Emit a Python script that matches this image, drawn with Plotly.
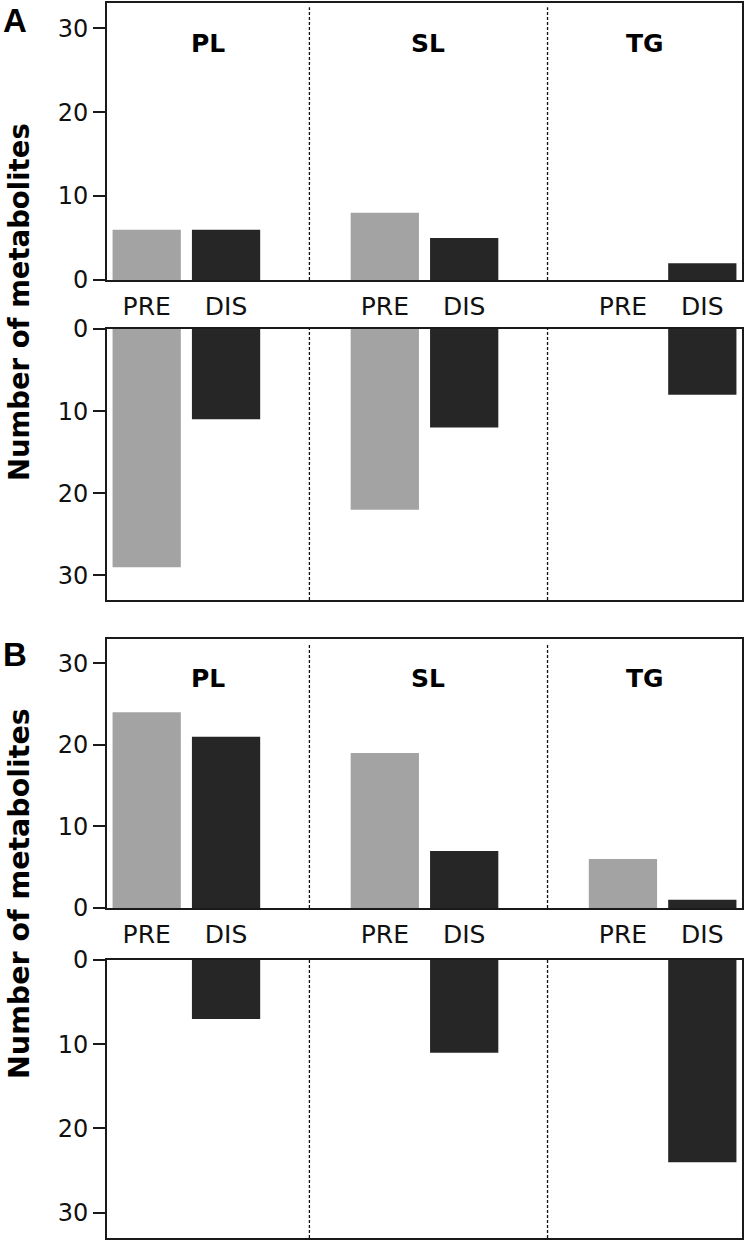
import plotly.graph_objects as go

# ---------------- data ----------------
lipid_classes = ["PL", "SL", "TG"]
conditions = ["PRE", "DIS"]
y_ticks = [0, 10, 20, 30]

# Panel A
a_up_pre = [6, 8, 0]
a_up_dis = [6, 5, 2]
a_down_pre = [29, 22, 0]
a_down_dis = [11, 12, 8]

# Panel B
b_up_pre = [24, 19, 6]
b_up_dis = [21, 7, 1]
b_down_pre = [0, 0, 0]
b_down_dis = [7, 11, 24]

panel_letters = ["A", "B"]
y_title = "Number of metabolites"

# ---------------- style / layout ----------------
W, H = 746, 1243
GREY = "#a3a3a3"
DARK = "#262626"
LINE = "#1a1a1a"
FONT = "DejaVu Sans"

def py(px):
    return 1 - px / H

x_dom = [107 / W, 742 / W]
# pixel extents (top, bottom) of the four plotting areas
areas = [(3, 280), (329, 600), (639, 908), (960, 1238)]

slot = 3  # each lipid class occupies 3 x-slots (PRE, DIS, gap)
x_pre = [i * slot for i in range(len(lipid_classes))]
x_dis = [i * slot + 1 for i in range(len(lipid_classes))]
dividers = [2.05, 5.05]
x_range = [-0.5, 7.5]
bar_w = 0.86

series = [
    (a_up_pre, a_up_dis),
    (a_down_pre, a_down_dis),
    (b_up_pre, b_up_dis),
    (b_down_pre, b_down_dis),
]

fig = go.Figure()
shapes = []
annotations = []

for k, ((pre, dis), (top, bot)) in enumerate(zip(series, areas)):
    n = "" if k == 0 else str(k + 1)
    xa, ya = "x" + n, "y" + n
    upper = (k % 2 == 0)
    fig.add_trace(go.Bar(x=x_pre, y=pre, width=bar_w, marker=dict(color=GREY, line=dict(width=0)),
                         xaxis=xa, yaxis=ya, showlegend=False, name="PRE"))
    fig.add_trace(go.Bar(x=x_dis, y=dis, width=bar_w, marker=dict(color=DARK, line=dict(width=0)),
                         xaxis=xa, yaxis=ya, showlegend=False, name="DIS"))

    xaxis = dict(domain=x_dom, range=x_range, anchor=ya, showline=True, mirror=True,
                 linecolor=LINE, linewidth=2, showgrid=False, zeroline=False, fixedrange=True,
                 automargin=False)
    if upper:
        xaxis.update(tickmode="array",
                     tickvals=sorted(x_pre + x_dis),
                     ticktext=[conditions[i % 2] for i in range(6)],
                     ticks="", ticklabelstandoff=3,
                     tickfont=dict(family=FONT, size=25, color="#111111"))
    else:
        xaxis.update(showticklabels=False, ticks="")
    yaxis = dict(domain=[py(bot), py(top)], anchor=xa, showline=True, mirror=True,
                 linecolor=LINE, linewidth=2, showgrid=False, zeroline=False,
                 tickmode="array", tickvals=y_ticks, ticks="outside", ticklen=12,
                 tickwidth=2, tickcolor=LINE, automargin=False,
                 tickfont=dict(family=FONT, size=24, color="#111111"), fixedrange=True)
    yaxis["range"] = [0, 33] if upper else [33, 0]
    fig.update_layout(**{("xaxis" + n): xaxis, ("yaxis" + n): yaxis})

    for d in dividers:
        shapes.append(dict(type="line", xref=xa, yref=ya + " domain", x0=d, x1=d,
                           y0=0, y1=0.985 if upper else 1,
                           line=dict(color="#111111", width=1.3, dash="3px,2px")))

    if upper:
        bounds = [x_range[0]] + dividers + [x_range[1]]
        for i, name in enumerate(lipid_classes):
            annotations.append(dict(x=(bounds[i] + bounds[i + 1]) / 2, y=28.2, xref=xa, yref=ya,
                                    text="<b>%s</b>" % name, showarrow=False,
                                    font=dict(family=FONT, size=25, color="#000000"),
                                    xanchor="center", yanchor="middle"))

# panel letters
for letter, ypx in zip(panel_letters, [20, 654]):
    annotations.append(dict(x=1 / W, y=py(ypx), xref="paper", yref="paper", text="<b>%s</b>" % letter,
                            showarrow=False, xanchor="left", yanchor="middle",
                            font=dict(family="Liberation Sans", size=33, color="#000000")))

# y titles
for ypx, fs in zip([302, 894], [27.5, 28.5]):
    annotations.append(dict(x=19 / W, y=py(ypx), xref="paper", yref="paper",
                            text="<b>%s</b>" % y_title, textangle=-90, showarrow=False,
                            xanchor="center", yanchor="middle",
                            font=dict(family=FONT, size=fs, color="#000000")))

fig.update_layout(width=W, height=H, margin=dict(l=0, r=0, t=0, b=0, autoexpand=False),
                  template="none",
                  paper_bgcolor="white", plot_bgcolor="white", barmode="overlay",
                  shapes=shapes, annotations=annotations, showlegend=False)

fig.write_html("out.html", config={"displayModeBar": False},
               post_script="document.body.style.margin='0px';")
